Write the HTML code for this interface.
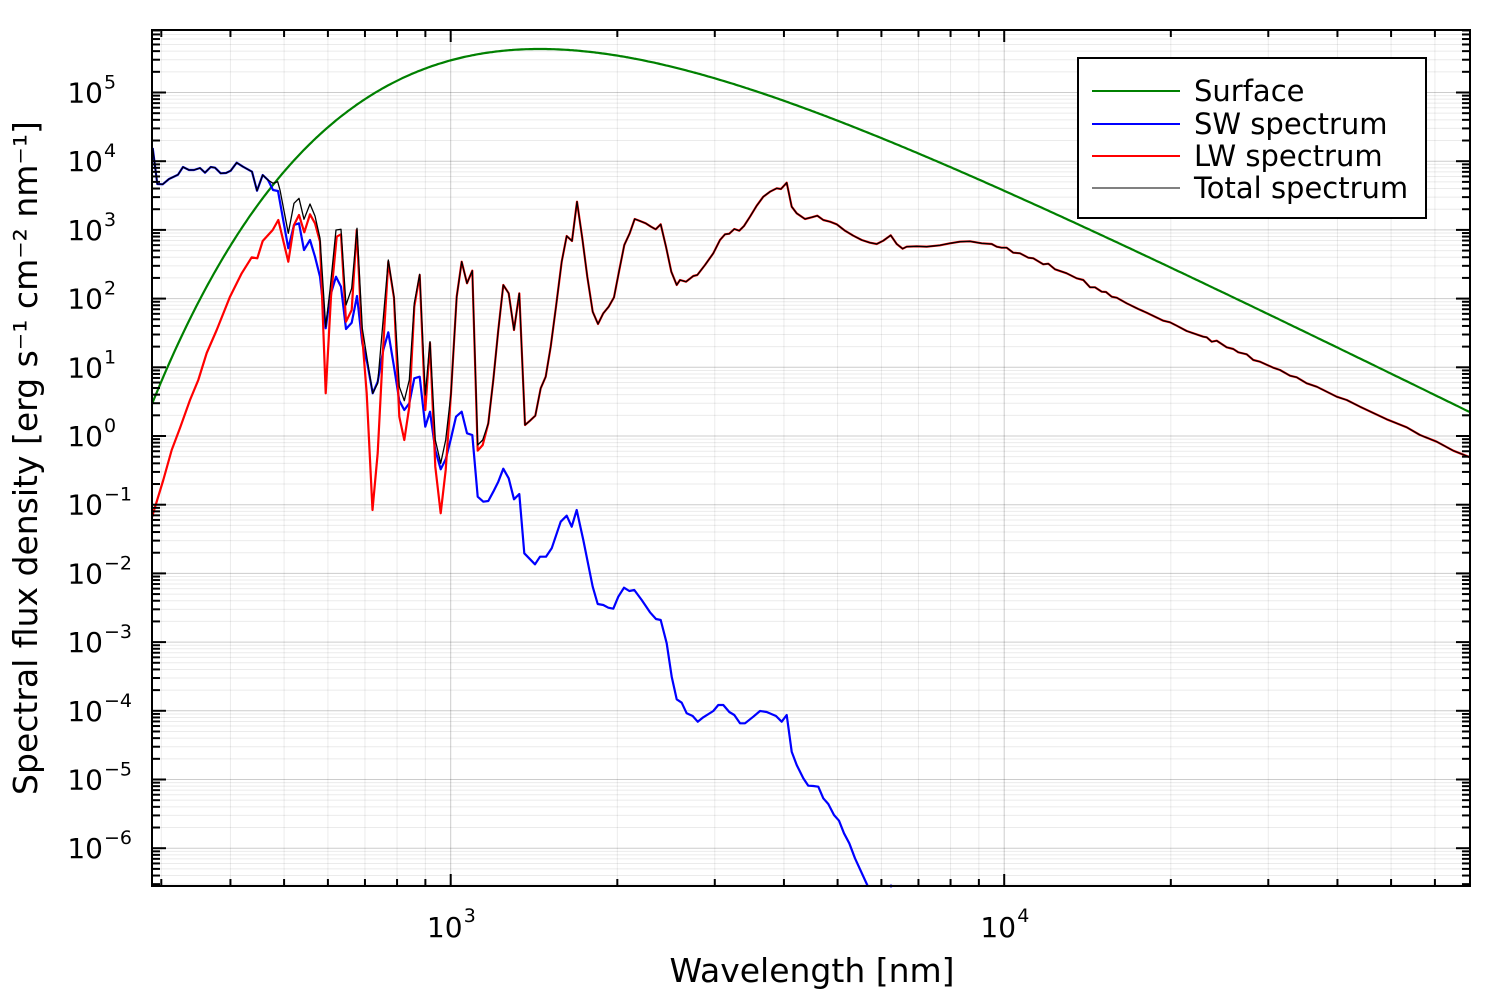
<!DOCTYPE html>
<html><head><meta charset="utf-8"><style>
body{margin:0;background:#fff;}
svg{display:block;font-family:"DejaVu Sans","Liberation Sans",sans-serif;}
</style></head><body>
<svg id="s" width="1500" height="1000" xmlns="http://www.w3.org/2000/svg">
<rect width="1500" height="1000" fill="#fff"/>
<g id="grid"></g>
<g id="curves" fill="none" stroke-linejoin="round"></g>
<rect x="152" y="30" width="1318" height="856" fill="none" stroke="#000" stroke-width="2"/>
<g id="ticks" stroke="#000"></g>
<g id="labels" font-size="28" fill="#000"></g>
<text x="812" y="982" font-size="33" text-anchor="middle">Wavelength [nm]</text>
<text transform="translate(37,458) rotate(-90)" font-size="33" text-anchor="middle">Spectral flux density [erg s⁻¹ cm⁻² nm⁻¹]</text>
<rect x="1078" y="58" width="348" height="160" fill="#fff" stroke="#000" stroke-width="2"/>
<line x1="1092" y1="91" x2="1180" y2="91" stroke="#008000" stroke-width="2"/>
<line x1="1092" y1="124" x2="1180" y2="124" stroke="#0000ff" stroke-width="2"/>
<line x1="1092" y1="156" x2="1180" y2="156" stroke="#ff0000" stroke-width="2"/>
<line x1="1092" y1="188" x2="1180" y2="188" stroke="#000" stroke-width="1"/>
<g font-size="29"><text x="1194" y="101">Surface</text><text x="1194" y="134">SW spectrum</text><text x="1194" y="166">LW spectrum</text><text x="1194" y="198">Total spectrum</text></g>
</svg>
<script>
var NS="http://www.w3.org/2000/svg";
function el(p,t,a,txt){var e=document.createElementNS(NS,t);for(var k in a)e.setAttribute(k,a[k]);if(txt)e.textContent=txt;document.getElementById(p).appendChild(e);return e;}
var X0=152,X1=1470,Y0=30,Y1=886;
function xp(l){return 450.7+553.5*(Math.log10(l)-3);}
function yp(v){return 436-68.7*Math.log10(v);}
for(var d=2;d<=4;d++)for(var m=1;m<=9;m++){var x=xp(m*Math.pow(10,d));if(x<X0||x>X1)continue;
 el("grid","line",{x1:x,y1:Y0,x2:x,y2:Y1,stroke:"#000","stroke-opacity":m==1?0.2:0.08,"stroke-width":1});
 el("ticks","line",{x1:x,y1:Y1,x2:x,y2:Y1-(m==1?12:7),"stroke-width":2});
 el("ticks","line",{x1:x,y1:Y0,x2:x,y2:Y0+(m==1?12:7),"stroke-width":2});}
for(var d=-7;d<=5;d++)for(var m=1;m<=9;m++){var y=yp(m*Math.pow(10,d));if(y<Y0||y>Y1)continue;
 el("grid","line",{x1:X0,y1:y,x2:X1,y2:y,stroke:"#000","stroke-opacity":m==1?0.2:0.08,"stroke-width":1});
 el("ticks","line",{x1:X0,y1:y,x2:X0+(m==1?14:8),y2:y,"stroke-width":2});
 el("ticks","line",{x1:X1,y1:y,x2:X1-(m==1?14:8),y2:y,"stroke-width":2});}
for(var d=-6;d<=5;d++){var y=yp(Math.pow(10,d));
 el("labels","text",{x:103,y:y+10,"text-anchor":"end"},"10");
 el("labels","text",{x:104,y:y-4,"font-size":"19"},d<0?"−"+(-d):""+d);}
[[3,xp(1000)],[4,xp(10000)]].forEach(function(a){el("labels","text",{x:a[1]-6,y:937,"text-anchor":"middle"},"10");el("labels","text",{x:a[1]+13,y:922,"font-size":"19"},""+a[0]);});
var pts=[];var T=2000,c2=14388000;
function B(l){return Math.pow(l,-5)/(Math.exp(c2/(l*T))-1);}
var bm=B(1449);
for(var x=X0;x<=X1;x+=2){var l=Math.pow(10,3+(x-450.7)/553.5);var v=4.3e5*B(l)/bm;pts.push(x+","+yp(v).toFixed(1));}
el("curves","polyline",{points:pts.join(" "),stroke:"#008000","stroke-width":2.2});
var early="152.7,148 157.3,184 162.7,184.3 169,179 178,174.7 183,167 189,170 194,170 200,168 205,172.7 210.7,167 215,167.7 220.7,173.3 226,173 230.7,170.7 236.7,162.7 243,166.7 252,171.7 257,190.7 262.7,175 268,180 ";
var blue=early+"273,190 278,191 288.3,248.3 294,225 299,223.3 304,250 310,240 315,256.7 320,276.7 325.7,328.3 330,296.7 336,276.7 341,286.7 346,329 351.7,322.7 357,296 362.3,343.3 367.3,363.3 372.7,393.3 377.7,381.7 383.3,350 388.3,332.3 394,366.7 399.3,400.7 404.3,410 409.3,403.3 414.3,378.3 419.7,376.7 425.3,426.7 430,411.7 435.3,450 440.7,469.3 445.7,459.3 451,438.3 456,416.7 461.7,411.7 467,433.3 472.3,435 477.7,496.7 483.3,501.7 488.3,501 493.3,491.7 498.3,481.7 503.3,468.7 508.7,478.3 514,499.3 519.3,494 524.3,553.3 535,564.3 540,556.7 546,556.7 551.7,548.3 560.7,521.7 566.7,515.7 571.7,526.7 576.7,510 583.3,540 592.7,586.7 597.7,604 603.3,605 608.3,607.7 613.3,608.7 618.3,596.7 624,587.7 629.3,591 634.3,590 641.7,600 650,612.3 656,619 660.7,620 666.7,643.3 671.7,676.7 676.7,699.3 681.7,702.7 686.7,713.3 692.7,716 697.7,721.7 703.3,717.3 713.3,711 718.3,705 723.3,705 729.3,712 734.3,715 740,723.3 745,723.3 753.3,716.7 760,711 766.7,712 776,716 781.7,721.7 786.7,715 791.7,751.7 796.7,765 803.3,778.3 808.3,785.7 813.3,786 818.3,786.7 823.3,798.3 828.3,804 834,815 839,820.7 844,833.3 849.3,843.3 855,858.3 867.7,886";
var right="680,280 686,281.7 693.3,276 697.3,275 705,265 713.3,253.3 720,240 725,234.3 729.3,233.7 734.3,229 739.3,230.7 744,226 750,216.7 756.7,205.7 763.3,196.7 770,191.7 776.7,188.3 781,189 786.7,182.7 791.7,206.7 796.7,213.3 805,219 811.7,217.3 817.3,215.7 823.3,220 830,221.7 836.7,224.3 845,230.7 853.3,235.7 861.7,240 870,242.7 876.7,244 883.3,240.7 890.7,235.3 896.7,244 902.7,248.7 906.7,246.7 916.7,246.3 926.7,246.7 940,245.3 950,243.3 960,241.7 970,241.3 981.7,243.3 991.7,244 996.7,246.7 1001.7,247.7 1006.7,247.7 1013.3,252.7 1020,253.3 1028.3,257.7 1033.3,258.3 1043.3,264.3 1048.3,263.7 1055,269.3 1066.7,273.3 1076.7,278.3 1083.3,280 1090,287.3 1095,287.3 1101.7,291.7 1106,292 1111.7,296.7 1116.7,297.7 1126.7,303.3 1138.3,309 1146.7,312.7 1163.3,320.7 1170,322.3 1176.7,325.7 1186.7,331 1203.3,336.7 1206.7,337.3 1211.7,341.7 1216.7,340.7 1226.7,347.3 1233.3,349 1238.3,352.3 1246.7,354.3 1253.3,360 1260,361.7 1273.3,367.7 1280,370 1290,375.7 1296.7,377.3 1306.7,383.3 1316.7,386.7 1336.7,396.7 1346.7,400 1360,406.7 1386.7,419.3 1406.7,427.3 1420,435 1436.7,441.7 1453.3,450.7 1470,457.3";
var mid1="456.7,296.7 461.7,261.7 467,283.3 472.3,270.7 ";
var mid2="488.3,423.3 493.3,380 498.3,330 503.3,285 508.7,293.3 514,330 519.3,293.3 525,425 530,420.7 535.3,415.7 540.7,388.3 545.7,376.7 550.7,346.7 556,306.7 561.7,261.7 566.7,236 572,241 577,201.7 582.3,238.3 587.3,276.7 592.7,311.7 598,324 603.3,313.3 608.7,306.7 614,297.3 619.3,270 624.3,245 629.7,233.3 634.7,219 640,221 645.7,223.3 651,226.7 655.7,229.3 660.7,224.3 666,246.7 671.3,271.7 676.7,285 ";
var red="152,517 163.3,480 171.7,450 180,428 190,400 198.3,380 206.7,353 216.7,330 230,296.7 241.7,273.3 251.7,257.3 257.3,258.3 262.7,241 272.7,230 278.3,220 288.3,261.7 294,225 299,215 304.3,232.3 310,214.3 315,223.3 320,241.7 325.7,393.3 331,296.7 336.7,236.7 341,234.3 346,321.7 351.7,310 356.7,230 361.7,330 366.7,393.3 372.5,510 377.7,453 383,350 388.3,261.7 394,298 399.3,416.7 404.3,440 409.3,406.7 414.3,306.7 419.7,275 425.3,410 430,343 435.3,466.7 440.7,513.3 445.7,470 451,393 "+mid1+"477.7,450.7 482.7,445 "+mid2+right;
var black=early+"273,183.3 277.7,181.7 280,190 288.3,233.3 294,203.3 299,198.3 304,219.3 310,204 315,216 320,238.3 325.7,326.7 330,290 336,230 341,229.3 346,305 351.7,288.3 357,228.3 362.3,328.3 367.3,360 372.7,393.3 377.7,383.3 388.3,260 394,296.7 399.3,386.7 404.3,400.7 409.3,380 414.3,303.3 419.7,274.3 425.3,395 430,341.7 435.3,440 440.7,463.3 445.7,440 451,393.3 "+mid1+"477.7,445 482.7,440 "+mid2+right;
el("curves","polyline",{points:blue,stroke:"#0000ff","stroke-width":2.2});
el("curves","circle",{cx:891,cy:886,r:1.5,fill:"#0000ff",stroke:"none"});
el("curves","polyline",{points:red,stroke:"#ff0000","stroke-width":2.2});
el("curves","polyline",{points:black,stroke:"#000","stroke-width":1.3});
</script>
</body></html>
